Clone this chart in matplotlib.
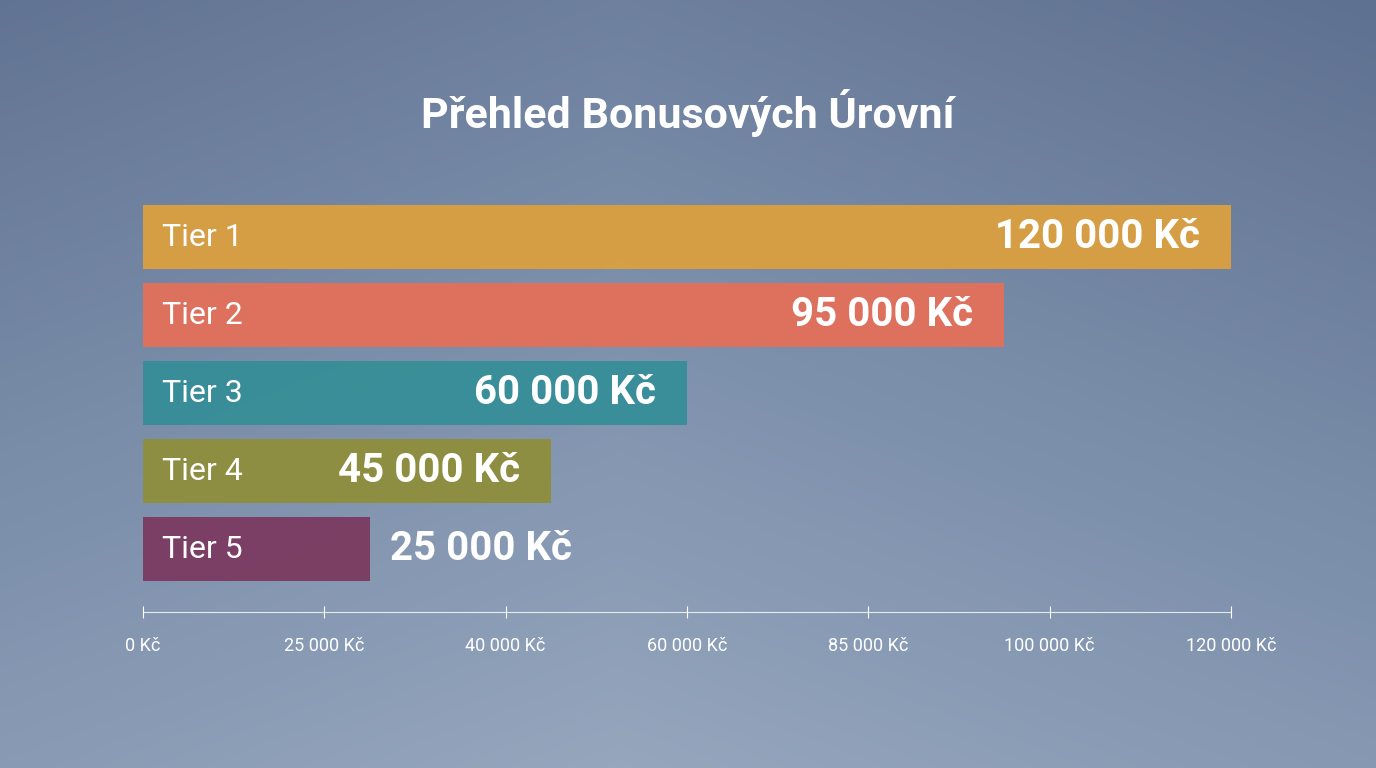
import matplotlib
matplotlib.use("Agg")
import matplotlib.pyplot as plt
import numpy as np
from matplotlib.colors import LinearSegmentedColormap

tiers = ["Tier 1", "Tier 2", "Tier 3", "Tier 4", "Tier 5"]
values = [120000, 95000, 60000, 45000, 25000]
value_labels = ["120 000 Kč", "95 000 Kč", "60 000 Kč", "45 000 Kč", "25 000 Kč"]
colors = ["#dba040", "#e3705a", "#368e98", "#8f8e3c", "#7b3a60"]
tick_vals = [0, 20000, 40000, 60000, 80000, 100000, 120000]
tick_labels = ["0 Kč", "25 000 Kč", "40 000 Kč", "60 000 Kč", "85 000 Kč", "100 000 Kč", "120 000 Kč"]

plt.rcParams['font.family'] = ['Roboto', 'DejaVu Sans']
fig = plt.figure(figsize=(13.76, 7.68), dpi=100)

bg = fig.add_axes([0, 0, 1, 1])
yy, xx = np.mgrid[0:1:200j, 0:1:300j]
grad = 0.55 * yy + 0.25 * (1 - np.abs(xx - 0.45) * 1.5) + 0.1
cmap = LinearSegmentedColormap.from_list("bg", ["#5f7190", "#7a8da9", "#95a6bd"])
bg.imshow(grad, cmap=cmap, aspect="auto", extent=[0, 1, 0, 1], origin="upper")
bg.axis("off")

ax = fig.add_axes([143/1376, (768-612)/768, 1088/1376, (612-190)/768])
ax.set_facecolor("none")
y = np.arange(len(tiers))
ax.barh(y, values, height=0.82, color=colors, alpha=0.95)
ax.set_ylim(4.807, -0.603)
ax.set_xlim(0, 120000)
for i, (t, v, lab) in enumerate(zip(tiers, values, value_labels)):
    ax.text(2100, i, t, va="center", ha="left", color="white", fontsize=23)
    if v >= 40000:
        ax.text(v - 3400, i, lab, va="center", ha="right", color="white", fontsize=29, fontweight="bold")
    else:
        ax.text(v + 2200, i, lab, va="center", ha="left", color="white", fontsize=29, fontweight="bold")

for s in ["top", "right", "left"]:
    ax.spines[s].set_visible(False)
ax.spines["bottom"].set_color("white")
ax.spines["bottom"].set_alpha(0.8)
ax.set_yticks([])
ax.set_xticks(tick_vals)
ax.set_xticklabels(tick_labels, color="white", fontsize=13)
ax.tick_params(axis="x", colors="white", length=8, direction="inout", pad=14, labelcolor="white")

fig.text(0.5, 1 - 113/768, "Přehled Bonusových Úrovní", ha="center", va="center",
         color="white", fontsize=31, fontweight="bold")

fig.savefig("out.png", dpi=100)
